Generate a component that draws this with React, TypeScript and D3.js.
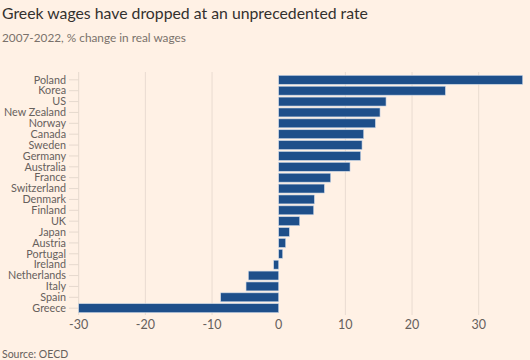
import { useRef, useEffect } from "react";
import * as d3 from "d3";

const countries = [
  "Poland", "Korea", "US", "New Zealand", "Norway", "Canada", "Sweden", "Germany",
  "Australia", "France", "Switzerland", "Denmark", "Finland", "UK", "Japan", "Austria",
  "Portugal", "Ireland", "Netherlands", "Italy", "Spain", "Greece",
];
const wageChange = [
  36.6, 25.0, 16.1, 15.2, 14.5, 12.75, 12.5, 12.3, 10.7, 7.8, 6.85, 5.35, 5.25, 3.15,
  1.6, 1.05, 0.6, -0.75, -4.55, -4.9, -8.7, -30,
];
const xTicks = [-30, -20, -10, 0, 10, 20, 30];

const W = 530;
const H = 360;
const FONT = "Lato, 'Open Sans', sans-serif";

export default function App() {
  const svgRef = useRef(null);

  useEffect(() => {
    const svg = d3.select(svgRef.current);
    svg.selectAll("*").remove();

    svg.append("rect").attr("width", W).attr("height", H).attr("fill", "#fff1e5");

    svg.append("text").text("Greek wages have dropped at an unprecedented rate")
      .attr("x", 2).attr("y", 19).attr("font-size", 15.8).attr("fill", "#33302e")
      .attr("font-family", FONT);
    svg.append("text").text("2007-2022, % change in real wages")
      .attr("x", 2).attr("y", 42).attr("font-size", 11.8).attr("fill", "#7a716b")
      .attr("font-family", FONT);

    const x = d3.scaleLinear().domain([-30, 30]).range([78.7, 478.7]);
    const y = d3.scaleBand().domain(countries).range([74.5, 313.5]).paddingInner(0.18).paddingOuter(0.08);

    // gridlines
    svg.append("g").selectAll("line").data(xTicks.filter((t) => t !== 0 && t !== -30)).join("line")
      .attr("x1", (d) => x(d)).attr("x2", (d) => x(d))
      .attr("y1", 72).attr("y2", 315)
      .attr("stroke", "#e9dcd1").attr("stroke-width", 1);

    // left axis line and ticks
    svg.append("line").attr("x1", x(-30)).attr("x2", x(-30)).attr("y1", 72).attr("y2", 315)
      .attr("stroke", "#e6d9ce");
    svg.append("g").selectAll("line").data(countries).join("line")
      .attr("x1", 69).attr("x2", x(-30))
      .attr("y1", (d) => y(d)! + y.bandwidth() / 2).attr("y2", (d) => y(d)! + y.bandwidth() / 2)
      .attr("stroke", "#e6d9ce");

    svg.append("g").selectAll("text").data(countries).join("text")
      .text((d) => d)
      .attr("x", 66).attr("y", (d) => y(d)! + y.bandwidth() / 2)
      .attr("dy", "0.35em").attr("text-anchor", "end")
      .attr("font-size", 10.8).attr("fill", "#66605c").attr("font-family", FONT);

    svg.append("g").selectAll("rect").data(wageChange).join("rect")
      .attr("x", (d) => x(Math.min(0, d)))
      .attr("width", (d) => Math.abs(x(d) - x(0)))
      .attr("y", (_, i) => y(countries[i])!)
      .attr("height", y.bandwidth())
      .attr("fill", "#1e4f8a").attr("stroke", "#c9d6e6").attr("stroke-width", 0.6);

    svg.append("g").selectAll("text").data(xTicks).join("text")
      .text((d) => String(d))
      .attr("x", (d) => x(d)).attr("y", 329).attr("text-anchor", "middle")
      .attr("font-size", 12.5).attr("fill", "#66605c").attr("font-family", FONT);

    svg.append("text").text("Source: OECD")
      .attr("x", 2).attr("y", 358).attr("font-size", 10.5).attr("fill", "#66605c")
      .attr("font-family", FONT);
  }, []);

  return (
    <div>
      <svg ref={svgRef} width={W} height={H} style={{ position: "absolute", left: 0, top: 0 }} />
    </div>
  );
}
